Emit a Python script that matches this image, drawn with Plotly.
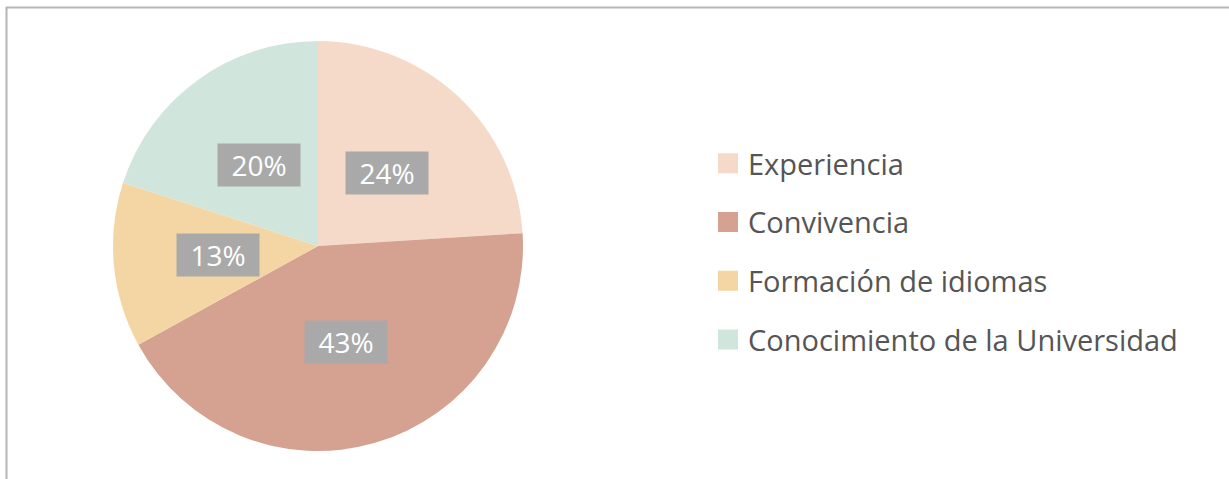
import math
import plotly.graph_objects as go

labels = ["Experiencia", "Convivencia", "Formación de idiomas", "Conocimiento de la Universidad"]
values = [24, 43, 13, 20]
colors = ["#f6dac9", "#d5a191", "#f3d6a4", "#d0e6dd"]

W, H = 1229, 479
cx, cy, R = 318, 246, 205  # pie centre / radius in px

fig = go.Figure()

fig.add_trace(go.Pie(
    labels=labels, values=values, sort=False, direction="clockwise", rotation=0,
    marker=dict(colors=colors, line=dict(width=0)),
    textinfo="none", hoverinfo="label+percent", showlegend=False,
    domain=dict(x=[(cx - R) / W, (cx + R) / W], y=[1 - (cy + R) / H, 1 - (cy - R) / H]),
))

# legend entries as dummy traces so the rows can be spaced out
for name, c in zip(labels, colors):
    fig.add_trace(go.Scatter(
        x=[None], y=[None], mode="markers", name=name, legendgroup=name,
        marker=dict(symbol="square", size=16, color=c, line=dict(color=c, width=4)),
    ))

# percentage labels in grey boxes, placed at the slice mid-angle
total = sum(values)
cum = 0
for v in values:
    mid = (cum + v / 2) / total * 2 * math.pi
    cum += v
    r = 0.49 * R
    px = cx + r * math.sin(mid)
    py = cy - r * math.cos(mid)
    fig.add_annotation(
        x=px / W, y=1 - py / H, xref="paper", yref="paper", showarrow=False,
        xanchor="center", yanchor="middle",
        text=f"{round(v / total * 100)}%",
        font=dict(family="Open Sans", size=28, color="white"),
        bgcolor="#a9a9a9", borderpad=2, width=78, height=38,
    )

# thin frame on the top and left
fig.add_shape(type="line", xref="paper", yref="paper", x0=6 / W, x1=1, y0=1 - 7.5 / H, y1=1 - 7.5 / H,
              line=dict(color="#b5b5b5", width=2))
fig.add_shape(type="line", xref="paper", yref="paper", x0=6.5 / W, x1=6.5 / W, y0=0, y1=1 - 7 / H,
              line=dict(color="#b5b5b5", width=2))

fig.update_layout(
    width=W, height=H,
    margin=dict(l=0, r=0, t=0, b=0),
    paper_bgcolor="white", plot_bgcolor="white",
    xaxis=dict(visible=False), yaxis=dict(visible=False),
    showlegend=True,
    legend=dict(
        x=708 / W, y=1 - 138 / H, xanchor="left", yanchor="top",
        font=dict(family="Open Sans", size=29, color="#555555"),
        traceorder="grouped", tracegroupgap=18,
        itemclick=False, itemdoubleclick=False,
    ),
)

fig.write_html("out.html", config={"displayModeBar": False},
               post_script="document.body.style.margin='0px';")
